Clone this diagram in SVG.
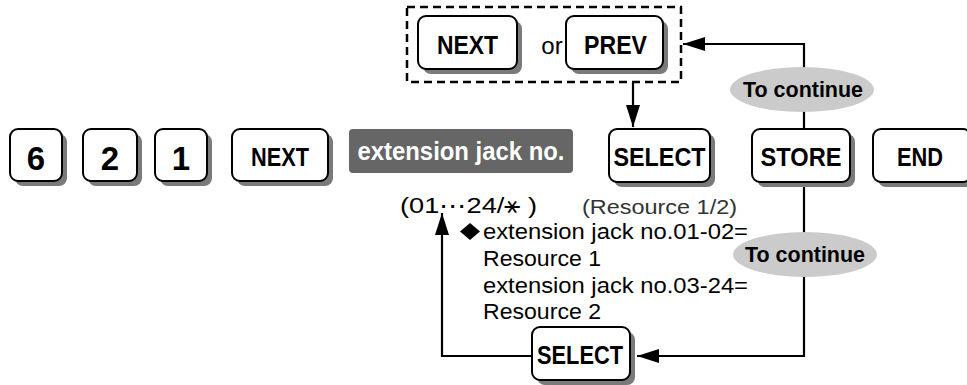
<svg xmlns="http://www.w3.org/2000/svg" width="967" height="385" viewBox="0 0 967 385">
<style>
.key{fill:#fff;stroke:#000;stroke-width:2}
.sh{fill:#7a7a7a}
.kt{font-family:"Liberation Sans",Arial,sans-serif;font-weight:bold;font-size:25px;fill:#000;text-anchor:middle}
.dg{font-size:33px}
.tx{font-family:"Liberation Sans",Arial,sans-serif;font-size:22px;fill:#000}
.oval{fill:#cbcbcb}
.ot{font-family:"Liberation Sans",Arial,sans-serif;font-weight:bold;font-size:22px;fill:#000;text-anchor:middle}
.ln{fill:none;stroke:#000;stroke-width:2.2}
</style>
<defs>
<marker id="ah" markerUnits="userSpaceOnUse" markerWidth="22" markerHeight="14" refX="22" refY="7" orient="auto">
<path d="M0,0 L22,7 L0,14 z" fill="#000"/>
</marker>
</defs>

<g id="connectors">
<path class="ln" d="M633,82 V127" marker-end="url(#ah)"/>
<path class="ln" d="M804,129 V44 H683" marker-end="url(#ah)"/>
<path class="ln" d="M804,182 V356 H637" marker-end="url(#ah)"/>
<path class="ln" d="M532,356 H442 V213" marker-end="url(#ah)"/>
</g>

<g id="key6">
<rect class="sh" x="15" y="134" width="52" height="52" rx="8"/>
<rect class="key" x="10" y="129" width="52" height="52" rx="8"/>
<text class="kt dg" x="36" y="170">6</text>
</g>
<g id="key2">
<rect class="sh" x="88" y="134" width="54" height="52" rx="8"/>
<rect class="key" x="83" y="129" width="54" height="52" rx="8"/>
<text class="kt dg" x="110" y="170">2</text>
</g>
<g id="key1">
<rect class="sh" x="160" y="134" width="52" height="52" rx="8"/>
<rect class="key" x="155" y="129" width="52" height="52" rx="8"/>
<text class="kt dg" x="181" y="170">1</text>
</g>
<g id="keyNext">
<rect class="sh" x="237" y="134" width="96" height="52" rx="8"/>
<rect class="key" x="232" y="129" width="96" height="52" rx="8"/>
<text class="kt" x="280" y="166" textLength="58" lengthAdjust="spacingAndGlyphs">NEXT</text>
</g>
<g id="extJack">
<rect x="349" y="129" width="224" height="44" rx="4" fill="#666"/>
<text class="kt" x="461" y="160" style="fill:#fff" textLength="207" lengthAdjust="spacingAndGlyphs">extension jack no.</text>
</g>
<g id="range">
<text class="tx" x="400" y="213" textLength="137" lengthAdjust="spacingAndGlyphs">(01⋯24/⚹ )</text>
</g>

<g id="nextPrev">
<rect x="407" y="7" width="274" height="75" fill="none" stroke="#000" stroke-width="2.5" stroke-dasharray="8 5"/>
<rect class="sh" x="423" y="21" width="99" height="53" rx="8"/>
<rect class="key" x="418" y="16" width="99" height="53" rx="8"/>
<text class="kt" x="467.500" y="54" textLength="61" lengthAdjust="spacingAndGlyphs">NEXT</text>
<text class="tx" x="552" y="54" text-anchor="middle" style="font-size:24px">or</text>
<rect class="sh" x="571" y="21" width="97" height="53" rx="8"/>
<rect class="key" x="566" y="16" width="97" height="53" rx="8"/>
<text class="kt" x="615.500" y="54" textLength="63" lengthAdjust="spacingAndGlyphs">PREV</text>
</g>

<g id="keySelect">
<rect class="sh" x="614" y="134" width="101" height="53" rx="8"/>
<rect class="key" x="609" y="129" width="101" height="53" rx="8"/>
<text class="kt" x="659.500" y="166" textLength="92" lengthAdjust="spacingAndGlyphs">SELECT</text>
</g>
<g id="keyStore">
<rect class="sh" x="757" y="134" width="98" height="53" rx="8"/>
<rect class="key" x="752" y="129" width="98" height="53" rx="8"/>
<text class="kt" x="801" y="166" textLength="81" lengthAdjust="spacingAndGlyphs">STORE</text>
</g>
<g id="keyEnd">
<rect class="sh" x="878" y="134" width="98" height="53" rx="8"/>
<rect class="key" x="873" y="129" width="98" height="53" rx="8"/>
<text class="kt" x="920" y="166" textLength="46" lengthAdjust="spacingAndGlyphs">END</text>
</g>

<g id="continueTop">
<ellipse class="oval" cx="802" cy="89.500" rx="72" ry="22.500"/>
<text class="ot" x="803" y="97" textLength="120" lengthAdjust="spacingAndGlyphs">To continue</text>
</g>
<g id="continueBottom">
<ellipse class="oval" cx="805" cy="254.500" rx="72" ry="22.500"/>
<text class="ot" x="805" y="262" textLength="120" lengthAdjust="spacingAndGlyphs">To continue</text>
</g>

<g id="resourceNote">
<text class="tx" x="582" y="214" style="fill:#333;font-size:21px" textLength="155" lengthAdjust="spacingAndGlyphs">(Resource 1/2)</text>
<path d="M470,223 L480,231.500 L470,240 L460,231.500 z" fill="#000"/>
<text class="tx" x="483" y="239" textLength="265" lengthAdjust="spacingAndGlyphs">extension jack no.01-02=</text>
<text class="tx" x="483" y="266" textLength="118" lengthAdjust="spacingAndGlyphs">Resource 1</text>
<text class="tx" x="483" y="293" textLength="265" lengthAdjust="spacingAndGlyphs">extension jack no.03-24=</text>
<text class="tx" x="483" y="319" textLength="118" lengthAdjust="spacingAndGlyphs">Resource 2</text>
</g>

<g id="keySelectLow">
<rect class="sh" x="537" y="332" width="98" height="53" rx="8"/>
<rect class="key" x="532" y="327" width="98" height="53" rx="8"/>
<text class="kt" x="580" y="364" textLength="86" lengthAdjust="spacingAndGlyphs">SELECT</text>
</g>
</svg>
